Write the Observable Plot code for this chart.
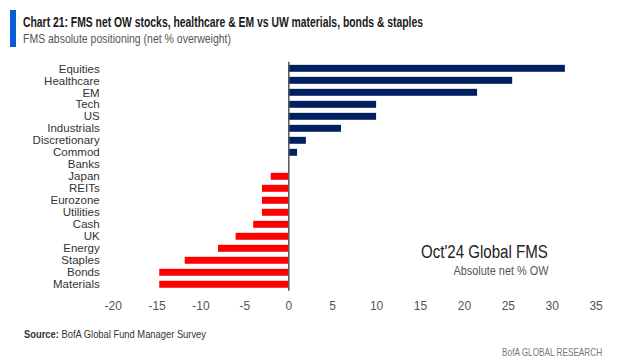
<!DOCTYPE html>
<html><head><meta charset="utf-8">
<script src="https://cdn.jsdelivr.net/npm/d3@7"></script>
<script src="https://cdn.jsdelivr.net/npm/@observablehq/plot@0.6"></script>
<style>
body{margin:0;background:#fff;}
#wrap{position:relative;width:617px;height:360px;overflow:hidden;font-family:"Liberation Sans",Arial,sans-serif;}
#bar{position:absolute;left:10px;top:10px;width:6px;height:37px;background:#0a5bd6;}
.t{position:absolute;white-space:nowrap;line-height:1;}
#title{left:23px;top:14px;font-size:15px;font-weight:bold;color:#1a1a1a;transform-origin:left center;}
#sub{left:23px;top:32px;font-size:13.5px;color:#555;transform-origin:left center;}
#chart{position:absolute;left:0;top:55px;}
#ann1{right:69px;top:242px;font-size:19px;color:#222;transform-origin:right center;}
#ann2{right:69px;top:264px;font-size:13px;color:#555;transform-origin:right center;}
#src{left:24px;top:329px;font-size:11px;color:#333;transform-origin:left center;}
#brand{right:15px;top:347px;font-size:11px;color:#777;transform-origin:right center;}
</style></head>
<body><div id="wrap">
<div id="bar"></div>
<div class="t" id="title" data-w="400">Chart 21: FMS net OW stocks, healthcare &amp; EM vs UW materials, bonds &amp; staples</div>
<div class="t" id="sub" data-w="208">FMS absolute positioning (net % overweight)</div>
<div id="chart"></div>
<div class="t" id="ann1" data-w="127">Oct'24 Global FMS</div>
<div class="t" id="ann2" data-w="95">Absolute net % OW</div>
<div class="t" id="src" data-w="182"><b>Source:</b> BofA Global Fund Manager Survey</div>
<div class="t" id="brand" data-w="100">BofA GLOBAL RESEARCH</div>
</div>
<script>
const categories = ["Equities","Healthcare","EM","Tech","US","Industrials","Discretionary","Commod","Banks","Japan","REITs","Eurozone","Utilities","Cash","UK","Energy","Staples","Bonds","Materials"];
const values = [31.5,25.5,21.5,10,10,6,2,1,0,-2,-3,-3,-3,-4,-6,-8,-11.8,-14.7,-14.7];
const xTicks = [-20,-15,-10,-5,0,5,10,15,20,25,30,35];

const data = categories.map((c,i)=>({category:c, value:values[i]}));

const chart = Plot.plot({
  width: 617,
  height: 265,
  marginLeft: 112.7,
  marginRight: 21.4,
  marginTop: 4.8,
  marginBottom: 27.2,
  style: {fontFamily: '"Liberation Sans",Arial,sans-serif', fontSize: "11.5px", background: "transparent"},
  x: {domain: [-20, 35], ticks: xTicks, label: null},
  y: {domain: categories, padding: 0.42, round: false, label: null},
  marks: [
    Plot.barX(data, {x: "value", y: "category", fill: d => d.value >= 0 ? "#002060" : "#ff0000"}),
    Plot.ruleX([0], {stroke: "#555", strokeWidth: 1.5, insetTop: 2, insetBottom: 2}),
    Plot.axisX({ticks: xTicks, tickSize: 0, tickPadding: 8, fill: "#555", fontSize: 12, tickFormat: d => String(d), label: null}),
    Plot.axisY({tickSize: 0, tickPadding: 13.5, fill: "#333", fontSize: 11.5, label: null})
  ]
});
document.getElementById("chart").appendChild(chart);

document.querySelectorAll("[data-w]").forEach(el => {
  const w = el.getBoundingClientRect().width;
  const target = +el.dataset.w;
  el.style.transform = `scaleX(${target / w})`;
});
</script>
</body></html>
